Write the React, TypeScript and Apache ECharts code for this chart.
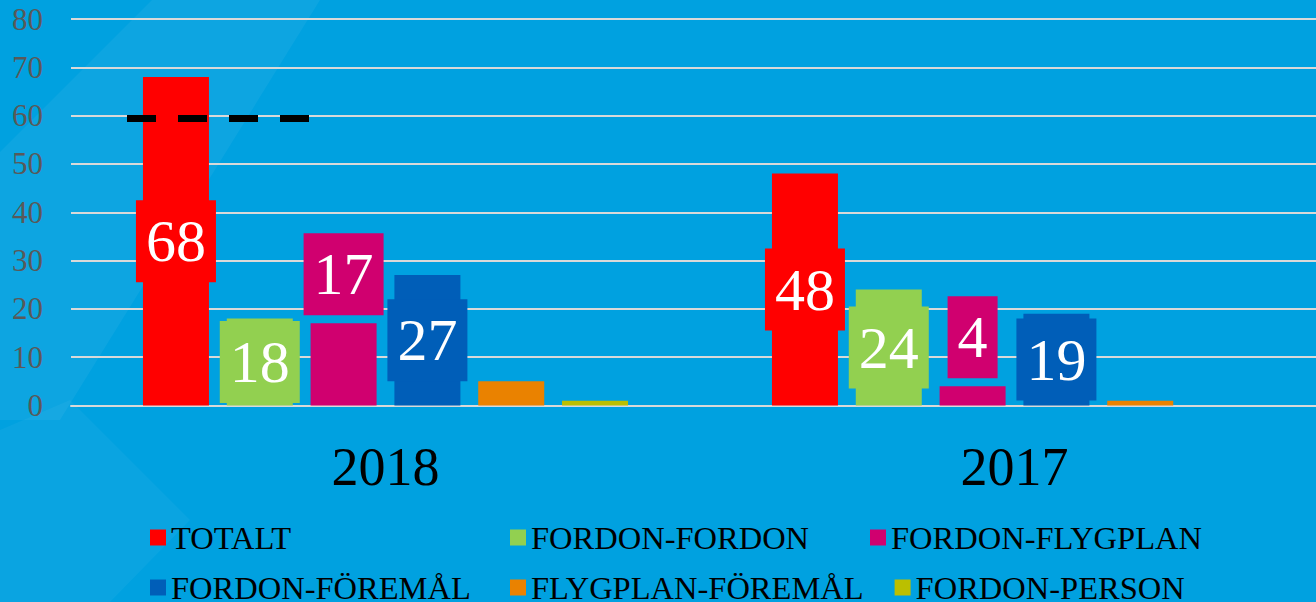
import React, { useEffect, useRef } from "react";
import * as echarts from "echarts";

const categories = ["2018", "2017"];
const seriesNames = [
  "TOTALT",
  "FORDON-FORDON",
  "FORDON-FLYGPLAN",
  "FORDON-FÖREMÅL",
  "FLYGPLAN-FÖREMÅL",
  "FORDON-PERSON",
];
const totalt = [68, 48];
const fordonFordon = [18, 24];
const fordonFlygplan = [17, 4];
const fordonForemal = [27, 19];
const flygplanForemal = [5, 1];
const fordonPerson = [1, 0];
const colors = ["#FF0000", "#92D050", "#D0006F", "#005EB8", "#EA8200", "#BBBF00"];
const showLabel = [true, true, true, true, false, false];
const labelAbove = [false, false, true, false, false, false];
const thresholdValue = 59.5;

const FONT = "'Liberation Serif', 'Times New Roman', serif";

export default function App() {
  const ref = useRef<HTMLDivElement>(null);
  useEffect(() => {
    if (!ref.current) return;
    const chart = echarts.init(ref.current, null, { renderer: "svg" });
    const allData = [totalt, fordonFordon, fordonFlygplan, fordonForemal, flygplanForemal, fordonPerson];
    const series: any[] = allData.map((d, i) => ({
      name: seriesNames[i],
      type: "bar",
      barWidth: 66,
      barGap: "27%",
      data: d,
      itemStyle: { color: colors[i] },
      label: {
        show: showLabel[i],
        position: labelAbove[i] ? "top" : "inside",
        distance: 8,
        color: "#fff",
        fontFamily: FONT,
        fontSize: 60,
        lineHeight: 60,
        backgroundColor: colors[i],
        padding: [11, 10, 11, 10],
      },
    }));
    series[0].markLine = {
      silent: true,
      symbol: "none",
      label: { show: false },
      lineStyle: { color: "#000", width: 7, type: [29, 22] },
      data: [[{ x: 127, yAxis: thresholdValue }, { x: 310, yAxis: thresholdValue }]],
    };
    const legendCommon = {
      orient: "horizontal",
      itemWidth: 16,
      itemHeight: 16,
      itemGap: 31,
      icon: "rect",
      padding: 0,
      textStyle: { fontFamily: FONT, fontSize: 32.5, lineHeight: 24, color: "#000", width: 308 },
      selectedMode: false,
    };
    chart.setOption({
      animation: false,
      backgroundColor: "#00A1E0",
      graphic: [
        {
          type: "polygon",
          silent: true,
          z: -10,
          shape: { points: [[152, 0], [320, 0], [60, 420], [0, 420], [0, 152]] },
          style: { fill: "rgba(255,255,255,0.05)" },
        },
        {
          type: "polygon",
          silent: true,
          z: -10,
          shape: { points: [[0, 430], [70, 400], [190, 520], [110, 602], [0, 602]] },
          style: { fill: "rgba(255,255,255,0.04)" },
        },
      ],
      grid: { left: 71, top: 19, width: 1258, height: 386.5, containLabel: false },
      legend: [
        { ...legendCommon, left: 150, top: 521, data: seriesNames.slice(0, 3) },
        { ...legendCommon, left: 150, top: 571, data: seriesNames.slice(3, 6) },
      ],
      xAxis: {
        type: "category",
        data: categories,
        axisLine: { show: true, lineStyle: { color: "#D9D9D9", width: 2 } },
        axisTick: { show: false },
        axisLabel: { fontFamily: FONT, fontSize: 54, color: "#000", margin: 34 },
      },
      yAxis: {
        type: "value",
        min: 0,
        max: 80,
        interval: 10,
        axisLine: { show: false },
        axisTick: { show: false },
        axisLabel: { fontFamily: FONT, fontSize: 31, color: "#595959", margin: 28 },
        splitLine: { lineStyle: { color: "#D9D9D9", width: 2 } },
      },
      series,
    });
    return () => chart.dispose();
  }, []);
  return (
    <div
      ref={ref}
      style={{ position: "fixed", left: 0, top: 0, width: 1330, height: 602 }}
    />
  );
}
